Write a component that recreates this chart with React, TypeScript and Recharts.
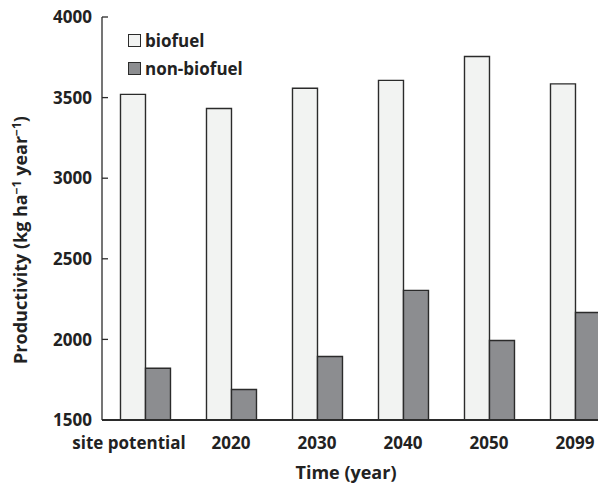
import React from "react";
import { BarChart, Bar, XAxis, YAxis, Label } from "recharts";

const categories = ["site potential", "2020", "2030", "2040", "2050", "2099"];
const biofuel = [3520, 3432, 3558, 3607, 3755, 3585];
const nonBiofuel = [1821, 1689, 1894, 2304, 1993, 2167];
const yTicks = [1500, 2000, 2500, 3000, 3500, 4000];
const legendItems = [
  { key: "biofuel", label: "biofuel", fill: "#f2f3f2" },
  { key: "nonBiofuel", label: "non-biofuel", fill: "#8c8d90" },
];

const data = categories.map((c, i) => ({ name: c, biofuel: biofuel[i], nonBiofuel: nonBiofuel[i] }));

const FONT = "'Open Sans', sans-serif";
const INK = "#2b2b2b";

const YTick = (props: any) => {
  const { x, y, payload } = props;
  return (
    <g>
      <line x1={x + 10} y1={y} x2={x + 16} y2={y} stroke={INK} strokeWidth={1.3} />
      <text x={x} y={y} dy="0.36em" textAnchor="end" fontFamily={FONT} fontWeight={700} fontSize={17} fill="#222">
        {payload.value}
      </text>
    </g>
  );
};

const XTick = (props: any) => {
  const { x, y, payload, index } = props;
  const shift = index === 0 ? -16 : 0;
  return (
    <text x={x + shift} y={y + 21} textAnchor="middle" fontFamily={FONT} fontWeight={700} fontSize={17} fill="#222">
      {payload.value}
    </text>
  );
};

export default function App() {
  return (
    <div style={{ position: "absolute", left: 0, top: 0, width: 598, height: 487, overflow: "hidden", background: "#fff" }}>
      <BarChart
        width={618}
        height={487}
        data={data}
        margin={{ top: 17, right: 0, bottom: 0, left: 0 }}
        barCategoryGap="21.5%"
        barGap={0}
      >
        <XAxis
          dataKey="name"
          height={67}
          tickLine={false}
          axisLine={{ stroke: INK, strokeWidth: 2 }}
          tick={<XTick />}
          interval={0}
        >
          <Label
            content={() => (
              <text x={346} y={473} dy="0.36em" textAnchor="middle" fontFamily={FONT} fontWeight={700} fontSize={18} fill="#222">
                Time (year)
              </text>
            )}
          />
        </XAxis>
        <YAxis
          width={102}
          domain={[1500, 4000]}
          ticks={yTicks}
          allowDataOverflow
          tickLine={false}
          tickSize={0}
          tickMargin={10}
          axisLine={{ stroke: INK, strokeWidth: 1.3 }}
          tick={<YTick />}
        >
          <Label
            content={() => (
              <text
                x={21}
                y={240}
                transform="rotate(-90 21 240)"
                dy="0.36em"
                textAnchor="middle"
                fontFamily={FONT}
                fontWeight={700}
                fontSize={18}
                fill="#222"
              >
                Productivity (kg ha
                <tspan dy={-6} fontSize={12}>−1</tspan>
                <tspan dy={6}> year</tspan>
                <tspan dy={-6} fontSize={12}>−1</tspan>
                <tspan dy={6}>)</tspan>
              </text>
            )}
          />
        </YAxis>
        <Bar dataKey="biofuel" fill="#f2f3f2" stroke={INK} strokeWidth={1.4} isAnimationActive={false} />
        <Bar dataKey="nonBiofuel" fill="#8c8d90" stroke={INK} strokeWidth={1.4} isAnimationActive={false} />
      </BarChart>
      <div style={{ position: "absolute", left: 128, top: 26, fontFamily: FONT, fontWeight: 700, fontSize: 17, color: "#222" }}>
        {legendItems.map((it) => (
          <div key={it.key} style={{ display: "flex", alignItems: "center", height: 28 }}>
            <span
              style={{
                display: "inline-block",
                width: 11,
                height: 11,
                background: it.fill,
                border: `1.2px solid ${INK}`,
                marginRight: 4,
              }}
            />
            <span>{it.label}</span>
          </div>
        ))}
      </div>
    </div>
  );
}
